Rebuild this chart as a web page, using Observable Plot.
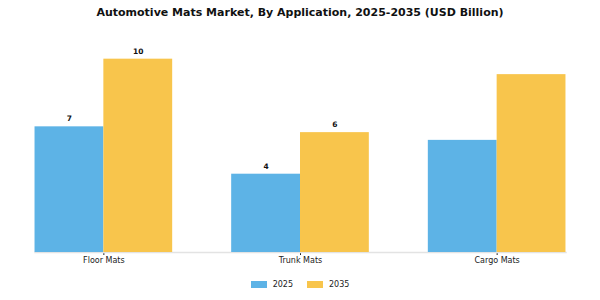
<!DOCTYPE html>
<html><head><meta charset="utf-8">
<script src="https://cdn.jsdelivr.net/npm/d3@7"></script>
<script src="https://cdn.jsdelivr.net/npm/@observablehq/plot@0.6"></script>
<style>
body{margin:0;background:#fff;font-family:"DejaVu Sans",sans-serif;width:600px;height:300px;overflow:hidden;}
#title{height:25px;line-height:25px;text-align:center;font-weight:bold;font-size:11px;color:#111;}
#legend{height:32px;display:flex;justify-content:center;align-items:center;font-size:8px;color:#222;}
.item{display:flex;align-items:center;margin:0 7px;}
.sw{width:16px;height:7px;margin-right:6px;}
</style></head>
<body>
<div id="title">Automotive Mats Market, By Application, 2025-2035 (USD Billion)</div>
<div id="chart"></div>
<div id="legend"></div>
<script>
const categories = ["Floor Mats", "Trunk Mats", "Cargo Mats"];
const years = ["2025", "2035"];
const values2025 = [6.5, 4.05, 5.8];
const values2035 = [10.0, 6.2, 9.2];
const labeledCategories = ["Floor Mats", "Trunk Mats"];
const colors = ["#5DB3E6", "#F8C54C"];

const data = [];
categories.forEach((c, i) => {
  data.push({category: c, year: "2025", value: values2025[i]});
  data.push({category: c, year: "2035", value: values2035[i]});
});

const chart = Plot.plot({
  width: 600,
  height: 243,
  marginTop: 24,
  marginBottom: 16,
  marginLeft: 7,
  marginRight: 7,
  style: {fontFamily: "DejaVu Sans, sans-serif", fontSize: "8px", color: "#222", background: "#fff"},
  fx: {domain: categories, paddingInner: 0.3, paddingOuter: 0.14, round: false, label: null, tickSize: 3, tickPadding: 2},
  x: {domain: years, padding: 0, round: false, axis: null},
  y: {domain: [0, 10.5], axis: null},
  color: {domain: years, range: colors},
  facet: {data: data, x: "category", marginBottom: 16},
  marks: [
    Plot.frame({anchor: "bottom", facet: "super", stroke: "#e3e3e3", strokeWidth: 1.5}),
    Plot.barY(data, {x: "year", y: "value", fill: "year"}),
    Plot.text(data, {filter: d => labeledCategories.includes(d.category), x: "year", y: "value", text: d => String(Math.round(d.value)), dy: -8, fontWeight: "bold", fontSize: 7.5, fill: "#111"})
  ]
});
document.getElementById("chart").appendChild(chart);

const legend = d3.select("#legend");
years.forEach((y, i) => {
  const item = legend.append("div").attr("class", "item");
  item.append("div").attr("class", "sw").style("background", colors[i]);
  item.append("span").text(y);
});
</script>
</body></html>
